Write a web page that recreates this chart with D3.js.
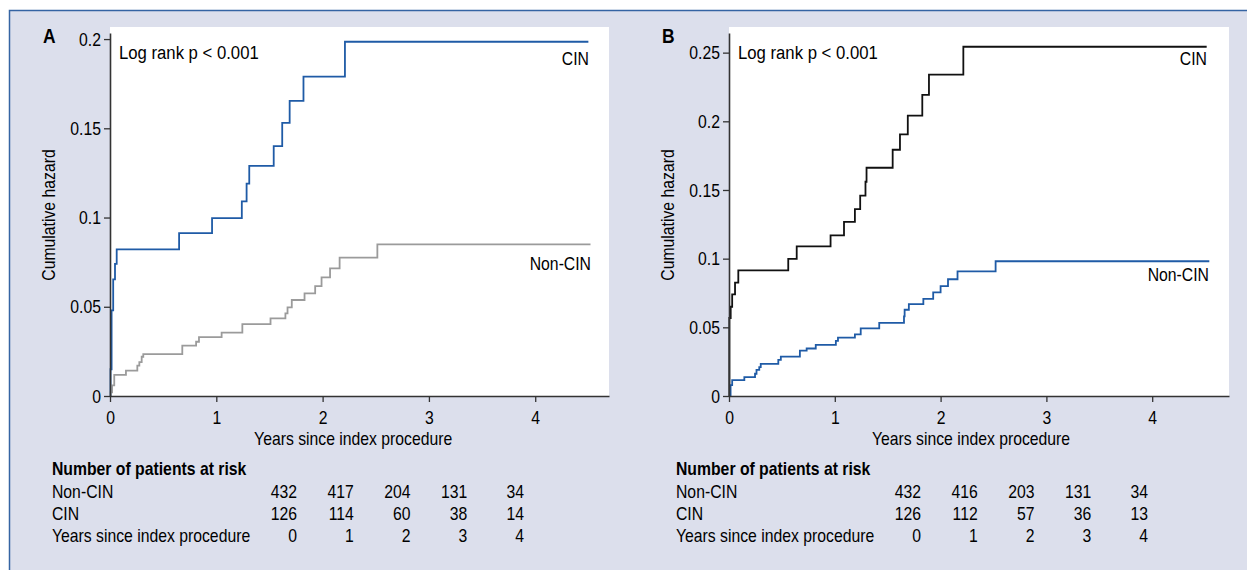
<!DOCTYPE html>
<html>
<head>
<meta charset="utf-8">
<script src="https://cdn.jsdelivr.net/npm/d3@7"></script>
<style>
  html, body { margin: 0; padding: 0; background: #fff; }
  svg { display: block; }
  text { font-family: 'Liberation Sans', Arial, sans-serif; fill: #000; }
</style>
</head>
<body>
<svg id="chart" width="1247" height="570"></svg>
<script>
const W = 1247;
const H = 570;
const BG = '#dcdfec';
const BLUE = '#1f5ba6';
const GREY = '#9b9b9b';
const BLACK = '#111';
const FS = 19;        // font size
const NARROW = 0.83;  // squeeze text to look like a condensed face

// step points [years, cumulative hazard]
const cinA = [[0, 0], [0.005, 0.015], [0.015, 0.048], [0.03, 0.0654], [0.047, 0.074], [0.063, 0.0822],
  [0.65, 0.0913], [0.96, 0.0997], [1.24, 0.109], [1.285, 0.119], [1.31, 0.129], [1.54, 0.140],
  [1.62, 0.153], [1.69, 0.1654], [1.82, 0.179], [2.21, 0.1985], [4.50, 0.1985]];
const nonCinA = [[0, 0], [0.005, 0.002], [0.02, 0.006], [0.04, 0.0118], [0.15, 0.0142], [0.257, 0.017],
  [0.276, 0.019], [0.298, 0.022], [0.313, 0.0235], [0.68, 0.0282], [0.81, 0.0304], [0.837, 0.033],
  [1.05, 0.0355], [1.245, 0.0403], [1.51, 0.0435], [1.65, 0.0463], [1.67, 0.0497], [1.71, 0.0538],
  [1.83, 0.0575], [1.93, 0.0616], [1.99, 0.0665], [2.07, 0.0715], [2.16, 0.0775], [2.515, 0.085],
  [4.52, 0.085]];
const cinB = [[0, 0], [0.003, 0.0568], [0.016, 0.065], [0.03, 0.074], [0.057, 0.0826], [0.088, 0.0914],
  [0.56, 0.0998], [0.64, 0.1089], [0.96, 0.117], [1.087, 0.1268], [1.19, 0.136], [1.24, 0.1459],
  [1.29, 0.156], [1.30, 0.1662], [1.547, 0.1793], [1.616, 0.1905], [1.69, 0.2042], [1.827, 0.2192],
  [1.89, 0.234], [2.215, 0.2543], [4.515, 0.2543]];
const nonCinB = [[0, 0], [0.015, 0.0079], [0.03, 0.0115], [0.145, 0.0138], [0.246, 0.0162], [0.26, 0.019],
  [0.286, 0.021], [0.30, 0.0234], [0.466, 0.0263], [0.49, 0.0287], [0.67, 0.033], [0.734, 0.0346],
  [0.82, 0.0372], [1.01, 0.0401], [1.03, 0.0425], [1.19, 0.0449], [1.245, 0.0492], [1.42, 0.0532],
  [1.654, 0.058], [1.66, 0.0628], [1.70, 0.0669], [1.837, 0.0707], [1.93, 0.0755], [2.0, 0.080],
  [2.07, 0.085], [2.16, 0.0907], [2.52, 0.0981], [4.54, 0.0981]];

const xTicks = [0, 1, 2, 3, 4];
const yTicksA = [0, 0.05, 0.1, 0.15, 0.2];
const yTicksB = [0, 0.05, 0.1, 0.15, 0.2, 0.25];

// numbers at risk
const years = [0, 1, 2, 3, 4];
const riskNonCinA = [432, 417, 204, 131, 34];
const riskCinA = [126, 114, 60, 38, 14];
const riskNonCinB = [432, 416, 203, 131, 34];
const riskCinB = [126, 112, 57, 36, 13];

const svg = d3.select('#chart');

// figure frame
svg.append('rect')
    .attr('x', 9.5).attr('y', 10.5)
    .attr('width', W).attr('height', H)
    .attr('fill', BG)
    .attr('stroke', '#3564a3')
    .attr('stroke-width', 1.5);

const panels = [
    { letter: 'A', left: 110, right: 609, xMax: 4.694, yMax: 0.2034, yTicks: yTicksA,
      series: [{ data: cinA, color: BLUE }, { data: nonCinA, color: GREY }],
      labelCin: [589, 65], labelNon: [591, 270], tableLeft: 52,
      risk: [riskNonCinA, riskCinA] },
    { letter: 'B', left: 729, right: 1229, xMax: 4.726, yMax: 0.2643, yTicks: yTicksB,
      series: [{ data: cinB, color: BLACK }, { data: nonCinB, color: BLUE }],
      labelCin: [1207, 65], labelNon: [1209, 281], tableLeft: 676,
      risk: [riskNonCinB, riskCinB] }
];

const TOP = 27;
const BOTTOM = 396;

panels.forEach(p => {
    const g = svg.append('g');

    const x = d3.scaleLinear().domain([0, p.xMax]).range([p.left, p.right]);
    const y = d3.scaleLinear().domain([0, p.yMax]).range([BOTTOM, TOP + 6]);

    g.append('rect')
        .attr('x', p.left).attr('y', TOP)
        .attr('width', p.right - p.left).attr('height', BOTTOM - TOP)
        .attr('fill', '#fff');

    const line = d3.line()
        .x(d => x(d[0]))
        .y(d => y(d[1]))
        .curve(d3.curveStepAfter);

    p.series.forEach(s => {
        g.append('path')
            .datum(s.data)
            .attr('d', line)
            .attr('fill', 'none')
            .attr('stroke', s.color)
            .attr('stroke-width', 1.8);
    });

    const xAxis = g.append('g')
        .attr('transform', 'translate(0,' + BOTTOM + ')')
        .call(d3.axisBottom(x).tickValues(xTicks).tickFormat(d3.format('d')).tickSize(6).tickSizeOuter(0));
    const yAxis = g.append('g')
        .attr('transform', 'translate(' + p.left + ',0)')
        .call(d3.axisLeft(y).tickValues(p.yTicks).tickFormat(d => String(d)).tickSize(6).tickSizeOuter(0));

    [xAxis, yAxis].forEach(a => {
        a.select('.domain').attr('stroke', '#333').attr('stroke-width', 1.6);
        a.selectAll('.tick line').attr('stroke', '#333').attr('stroke-width', 1.3);
        a.selectAll('.tick text').attr('font-size', FS).attr('font-family', null).attr('fill', '#000');
    });
    xAxis.selectAll('.tick text').attr('dy', null).attr('y', 28);
    yAxis.selectAll('.tick text').attr('x', -9);

    g.append('text')
        .attr('x', p.left - 67).attr('y', 43)
        .attr('font-size', 21).attr('font-weight', 'bold')
        .text(p.letter);

    g.append('text')
        .attr('class', 'logrank')
        .attr('x', p.left + 9).attr('y', 59)
        .attr('font-size', FS)
        .text('Log rank p < 0.001');

    g.append('text')
        .attr('x', p.labelCin[0]).attr('y', p.labelCin[1])
        .attr('text-anchor', 'end').attr('font-size', FS)
        .text('CIN');
    g.append('text')
        .attr('x', p.labelNon[0]).attr('y', p.labelNon[1])
        .attr('text-anchor', 'end').attr('font-size', FS)
        .text('Non-CIN');

    g.append('text')
        .attr('transform', 'translate(' + (p.left - 55) + ',215) rotate(-90)')
        .attr('text-anchor', 'middle').attr('font-size', FS)
        .text('Cumulative hazard');

    g.append('text')
        .attr('x', (x(0) + x(4.5)) / 2 + 4).attr('y', 445)
        .attr('text-anchor', 'middle').attr('font-size', FS)
        .text('Years since index procedure');

    // numbers at risk table
    const tl = p.tableLeft;
    const col = d3.scaleLinear().domain([0, 4]).range([tl + 245, tl + 472]);
    g.append('text')
        .attr('x', tl).attr('y', 475)
        .attr('font-size', FS).attr('font-weight', 'bold')
        .text('Number of patients at risk');

    const rows = [
        { label: 'Non-CIN', vals: p.risk[0], yy: 498 },
        { label: 'CIN', vals: p.risk[1], yy: 520 },
        { label: 'Years since index procedure', vals: years, yy: 542 }
    ];
    rows.forEach(r => {
        g.append('text')
            .attr('x', tl).attr('y', r.yy)
            .attr('font-size', FS)
            .text(r.label);
        g.selectAll(null)
            .data(r.vals)
            .enter()
            .append('text')
            .attr('x', (d, i) => col(i))
            .attr('y', r.yy)
            .attr('text-anchor', 'end')
            .attr('font-size', FS)
            .text(d => d);
    });
});

// condensed look: scale every label horizontally around its anchor
svg.selectAll('text').each(function() {
    const t = d3.select(this);
    const k = t.classed('logrank') ? 0.88 : NARROW;
    const x0 = +t.attr('x') || 0;
    const tr = t.attr('transform') || '';
    t.attr('x', x0 / k).attr('transform', (tr + ' scale(' + k + ',1)').trim());
});
</script>
</body>
</html>
